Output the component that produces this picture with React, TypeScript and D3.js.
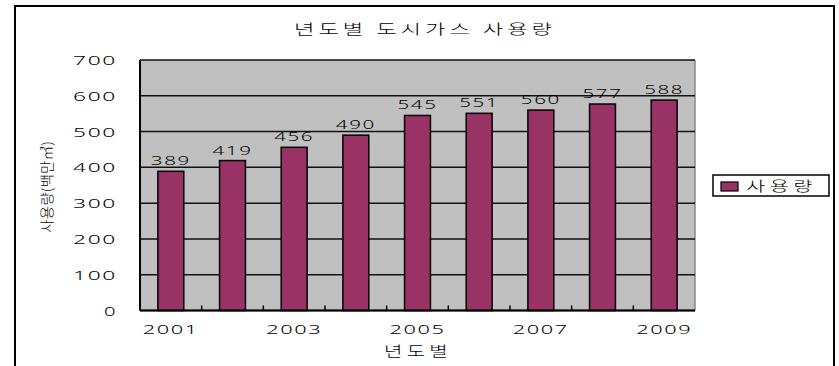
import React from "react";
import * as d3 from "d3";

const years = ["2001", "2002", "2003", "2004", "2005", "2006", "2007", "2008", "2009"];
const usage = [389, 419, 456, 490, 545, 551, 560, 577, 588];
const yTicks = [0, 100, 200, 300, 400, 500, 600, 700];
const xLabelYears = ["2001", "2003", "2005", "2007", "2009"];
const title = "년도별 도시가스 사용량";
const xTitle = "년도별";
const yTitle = "사용량(백만㎥)";
const seriesName = "사용량";

const W = 839;
const H = 366;
const plot = { left: 140, right: 695, top: 60, bottom: 310.5 };
const barColor = "#993366";
const plotBg = "#C0C0C0";
const numFont = "'Noto Sans', 'Liberation Sans', Arial, sans-serif";
const korFont = "'Noto Sans CJK KR', sans-serif";

export default function App() {
  const x = d3
    .scaleBand<string>()
    .domain(years)
    .range([plot.left, plot.right])
    .paddingInner(0.58)
    .paddingOuter(0.29);
  const y = d3.scaleLinear().domain([0, 700]).range([plot.bottom, plot.top]);
  const catW = (plot.right - plot.left) / years.length;
  const bandStart = (i: number) => plot.left + i * catW;

  return (
    <svg width={W} height={H} style={{ position: "absolute", left: 0, top: 0 }}>
      <rect x={0} y={0} width={W} height={H} fill="#fff" />
      {/* outer border */}
      <rect x={15} y={6} width={819} height={380} fill="none" stroke="#000" strokeWidth={2} />
      {/* title */}
      <text
        x={425}
        y={34}
        textAnchor="middle"
        fontFamily={korFont}
        fontWeight={300}
        fontSize={14}
        letterSpacing={2.5}
        textLength={262}
        lengthAdjust="spacingAndGlyphs"
        fill="#000"
      >
        {title}
      </text>
      {/* plot background */}
      <rect
        x={plot.left}
        y={plot.top}
        width={plot.right - plot.left}
        height={plot.bottom - plot.top}
        fill={plotBg}
      />
      <line x1={plot.right} x2={plot.right} y1={plot.top} y2={plot.bottom} stroke="#888" strokeWidth={1.5} />
      {/* gridlines */}
      {yTicks.map((t) => (
        <line
          key={"g" + t}
          x1={plot.left}
          x2={plot.right}
          y1={y(t)}
          y2={y(t)}
          stroke="#111"
          strokeWidth={1.5}
        />
      ))}
      {/* bars */}
      {years.map((yr, i) => (
        <rect
          key={yr}
          x={x(yr)!}
          y={y(usage[i])}
          width={x.bandwidth()}
          height={y(0) - y(usage[i])}
          fill={barColor}
          stroke="#000"
          strokeWidth={1.5}
        />
      ))}
      {/* data labels */}
      {years.map((yr, i) => (
        <text
          key={"l" + yr}
          x={x(yr)! + x.bandwidth() / 2}
          y={y(usage[i]) - 6}
          textAnchor="middle"
          fontFamily={numFont}
          fontWeight={300}
          fontSize={13}
          letterSpacing={1}
          textLength={40}
          lengthAdjust="spacingAndGlyphs"
          fill="#000"
        >
          {usage[i]}
        </text>
      ))}
      {/* axes */}
      <line x1={plot.left} x2={plot.left} y1={plot.top} y2={plot.bottom} stroke="#000" strokeWidth={2} />
      <line x1={plot.left} x2={plot.right} y1={plot.bottom} y2={plot.bottom} stroke="#000" strokeWidth={2} />
      {years.slice(1).map((yr, i) => (
        <line
          key={"t" + yr}
          x1={bandStart(i + 1)}
          x2={bandStart(i + 1)}
          y1={plot.bottom}
          y2={plot.bottom - 5}
          stroke="#000"
          strokeWidth={1.5}
        />
      ))}
      {/* y tick labels */}
      {yTicks.map((t) => (
        <text
          key={"y" + t}
          x={117}
          y={y(t) + 5}
          textAnchor="end"
          fontFamily={numFont}
          fontWeight={300}
          fontSize={13.5}
          letterSpacing={1}
          textLength={t === 0 ? 13 : 44}
          lengthAdjust="spacingAndGlyphs"
          fill="#000"
        >
          {t}
        </text>
      ))}
      {/* x labels */}
      {xLabelYears.map((yr) => (
        <text
          key={"x" + yr}
          x={x(yr)! + x.bandwidth() / 2}
          y={334}
          textAnchor="middle"
          fontFamily={numFont}
          fontWeight={300}
          fontSize={13.5}
          letterSpacing={1}
          textLength={56}
          lengthAdjust="spacingAndGlyphs"
          fill="#000"
        >
          {yr}
        </text>
      ))}
      {/* x title */}
      <text
        x={418}
        y={356}
        textAnchor="middle"
        fontFamily={korFont}
        fontWeight={300}
        fontSize={14}
        letterSpacing={3}
        textLength={68}
        lengthAdjust="spacingAndGlyphs"
        fill="#000"
      >
        {xTitle}
      </text>
      {/* y title */}
      <text
        transform={`translate(52,187) rotate(-90)`}
        textAnchor="middle"
        fontFamily={korFont}
        fontWeight={300}
        fontSize={14}
        textLength={92}
        lengthAdjust="spacingAndGlyphs"
        fill="#000"
      >
        {yTitle}
      </text>
      {/* legend */}
      <rect x={713} y={175} width={116} height={21} fill="#fff" stroke="#000" strokeWidth={1.5} />
      <rect x={721} y={182} width={17} height={9} fill={barColor} stroke="#000" strokeWidth={1.2} />
      <text
        x={746}
        y={191}
        fontFamily={korFont}
        fontWeight={300}
        fontSize={14}
        letterSpacing={3}
        textLength={71}
        lengthAdjust="spacingAndGlyphs"
        fill="#000"
      >
        {seriesName}
      </text>
    </svg>
  );
}
